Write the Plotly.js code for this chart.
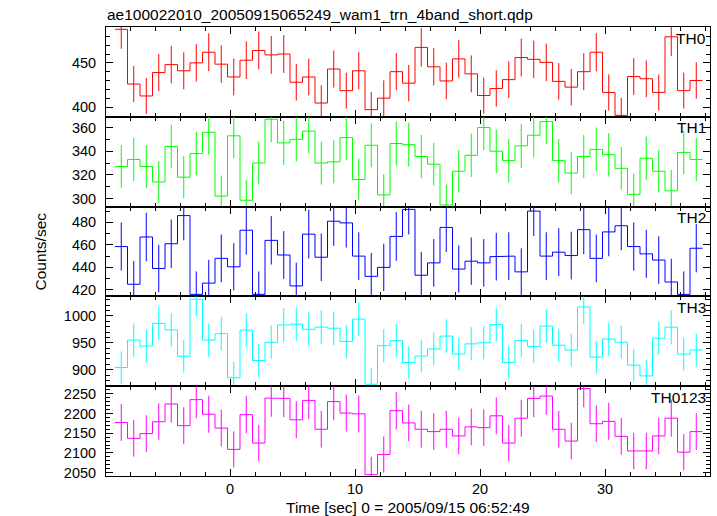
<!DOCTYPE html>
<html>
<head>
<meta charset="utf-8">
<script src="https://cdn.plot.ly/plotly-3.0.1.min.js"></script>
<style>html,body{margin:0;padding:0;background:#fff;}#chart{width:717px;height:516px;}</style>
</head>
<body>
<div id="chart"></div>
<script>
// Bin centres (sec)
var time = [-8.7,-7.7,-6.7,-5.7,-4.7,-3.7,-2.7,-1.7,-0.7,0.3,1.3,2.3,3.3,4.3,5.3,6.3,7.3,8.3,9.3,10.3,11.3,12.3,13.3,14.3,15.3,16.3,17.3,18.3,19.3,20.3,21.3,22.3,23.3,24.3,25.3,26.3,27.3,28.3,29.3,30.3,31.3,32.3,33.3,34.3,35.3,36.3,37.3];
var binWidth = 1.0;

var bandNames = ["TH0","TH1","TH2","TH3","TH0123"];

var th0 = [488,426,412.5,439,448,441,450,462,448.5,434,453,464,459,460,428,434,404.5,443,418.5,441,397,410,440,427,467.5,445.5,429.5,454.5,437.5,413,421,431,456,454,450.5,429,422.5,440,462,416.5,390.5,434.5,432,416.5,479.5,418.5,430];
var th0Err = [22.1,20.6,20.3,21,21.2,21,21.2,21.5,21.2,20.8,21.3,21.5,21.4,21.4,20.7,20.8,20.1,21,20.4,21,19.9,20.2,21,20.7,21.6,21.1,20.7,21.3,20.9,20.3,20.5,20.8,21.4,21.3,21.2,20.7,20.6,21,21.5,20.4,19.8,20.8,20.8,20.4,21.9,20.4,20.7];

var th1 = [327,333,327,314,344,318,338,356,302,353,298.5,330,367,347,350,357,330,331,351.5,316,345,303,346.5,345.5,335.5,329,294.5,323,336.5,360,340,332,344.5,353.5,365,332,321.5,335.5,341.5,337,325.5,303.5,334,323,306.5,339,333];
var th1Err = [18.1,18.2,18.1,17.7,18.5,17.8,18.4,18.9,17.4,18.8,17.3,18.2,19.2,18.6,18.7,18.9,18.2,18.2,18.7,17.8,18.6,17.4,18.6,18.6,18.3,18.1,17.2,18,18.3,19,18.4,18.2,18.6,18.8,19.1,18.2,17.9,18.3,18.5,18.4,18,17.4,18.3,18,17.5,18.4,18.2];

var th2 = [458.5,425,467,439,461,486,416,426,448,440.5,473,416,464,451,423.5,469.5,449,481,479.5,450,432,440,467.5,491.5,433,444,475.5,438.5,445.5,444,449.5,450,436,490,450,453.5,450.5,473.5,448,471.5,477,458.5,452,446.5,427,416,457];
var th2Err = [21.4,20.6,21.6,21,21.5,22,20.4,20.6,21.2,21,21.7,20.4,21.5,21.2,20.6,21.7,21.2,21.9,21.9,21.2,20.8,21,21.6,22.2,20.8,21.1,21.8,20.9,21.1,21.1,21.2,21.2,20.9,22.1,21.2,21.3,21.2,21.8,21.2,21.7,21.8,21.4,21.3,21.1,20.7,20.4,21.4];

var th3 = [904,955,944,986,974,925,1031,955,967,885,973.5,917,951,983,984.5,975,979,977,952.5,994,873,944.5,954,913.5,925.5,938.5,962.5,929,948,950,984,913.5,954,943,981,945.5,936.5,1016.5,923.5,957,951,908.5,888.5,958.5,979,929,936.5];
var th3Err = [30.1,30.9,30.7,31.4,31.2,30.4,32.1,30.9,31.1,29.7,31.2,30.3,30.8,31.4,31.4,31.2,31.3,31.3,30.9,31.5,29.5,30.7,30.9,30.2,30.4,30.6,31,30.5,30.8,30.8,31.4,30.2,30.9,30.7,31.3,30.7,30.6,31.9,30.4,30.9,30.8,30.1,29.8,31,31.3,30.5,30.6];

var th0123 = [2177,2137,2149,2179,2224,2169,2235,2198,2163,2109,2197,2125,2239,2238,2184,2233,2160,2230,2201,2199,2045,2096,2207,2176,2160,2154,2160,2143,2166,2164,2194,2125,2188,2238,2244,2160,2130,2263,2174,2180,2142,2105,2105,2143,2188,2102,2154];
var th0123Err = [46.7,46.2,46.4,46.7,47.2,46.6,47.3,46.9,46.5,45.9,46.9,46.1,47.3,47.3,46.7,47.3,46.5,47.2,46.9,46.9,45.2,45.8,47,46.6,46.5,46.4,46.5,46.3,46.5,46.5,46.8,46.1,46.8,47.3,47.4,46.5,46.2,47.6,46.6,46.7,46.3,45.9,45.9,46.3,46.8,45.8,46.4];

var yTickStep = [50,20,20,50,50];

(function () {
  var series = [th0, th1, th2, th3, th0123];
  var errors = [th0Err, th1Err, th2Err, th3Err, th0123Err];
  var colors = ["#ff0000","#00ff00","#0000ff","#00ffff","#ff00ff"];
  var yRanges = [[388.9,490.6],[293.1,369.1],[414.2,494],[869.4,1036.1],[2041.6,2269]];

  var FONT = "Liberation Sans, Arial, Helvetica, sans-serif";
  var traces = [];
  var layout = {
    width: 717, height: 516,
    margin: {l: 106, r: 7, t: 27, b: 40},
    paper_bgcolor: "#fff", plot_bgcolor: "#fff",
    showlegend: false,
    font: {family: FONT, size: 14.5, color: "#000"},
    title: {text: "ae100022010_20050915065249_wam1_trn_4band_short.qdp",
            font: {family: FONT, size: 15.5, color: "#000"},
            x: 107/717, xanchor: "left", xref: "container",
            y: 1 - 15/516, yanchor: "middle", yref: "container"},
    annotations: []
  };

  var n = 5;
  for (var p = 0; p < n; p++) {
    var sfx = p === 0 ? "" : String(p + 1);
    var xs = [], ys = [];
    for (var i = 0; i < time.length; i++) {
      xs.push(time[i] - binWidth / 2, time[i] + binWidth / 2);
      ys.push(series[p][i], series[p][i]);
    }
    traces.push({
      type: "scatter", mode: "lines", x: xs, y: ys,
      xaxis: "x" + sfx, yaxis: "y" + sfx,
      line: {color: colors[p], width: 1}, hoverinfo: "skip"
    });
    traces.push({
      type: "scatter", mode: "markers", x: time, y: series[p],
      xaxis: "x" + sfx, yaxis: "y" + sfx,
      marker: {size: 1, opacity: 0, color: colors[p]},
      error_y: {type: "data", array: errors[p], symmetric: true, color: colors[p], thickness: 1, width: 0},
      hoverinfo: "skip"
    });
    var dTop = 1 - p / n, dBot = 1 - (p + 1) / n;
    layout["xaxis" + sfx] = {
      domain: [0, 1], anchor: "y" + sfx, range: [-9.92, 38.4],
      showline: true, linecolor: "#000", linewidth: 1, mirror: "allticks",
      ticks: "inside", ticklen: 7, tickwidth: 1, tickcolor: "#000",
      tick0: 0, dtick: 10,
      minor: {dtick: 2, ticks: "inside", ticklen: 4, tickcolor: "#000", tickwidth: 1, showgrid: false},
      showgrid: false, zeroline: false,
      showticklabels: p === n - 1,
      tickfont: {family: FONT, size: 14.5, color: "#000"}
    };
    layout["yaxis" + sfx] = {
      domain: [dBot, dTop], anchor: "x" + sfx, range: yRanges[p],
      showline: true, linecolor: "#000", linewidth: 1, mirror: "allticks",
      ticks: "inside", ticklen: 7, tickwidth: 1, tickcolor: "#000",
      tick0: 0, dtick: yTickStep[p],
      minor: {dtick: 10, ticks: "inside", ticklen: 4, tickcolor: "#000", tickwidth: 1, showgrid: false},
      showgrid: false, zeroline: false,
      tickfont: {family: FONT, size: 14.5, color: "#000"},
      ticklabelstandoff: 6
    };
    layout.annotations.push({
      text: bandNames[p], xref: "paper", x: 1, xanchor: "right", xshift: -2,
      yref: "y" + sfx + " domain", y: 1, yanchor: "middle", yshift: -11,
      showarrow: false, font: {family: FONT, size: 15.5, color: "#000"}
    });
  }

  layout.annotations.push({
    text: "Counts/sec", textangle: -90, xref: "paper", x: (40 - 106) / 604, xanchor: "center",
    yref: "paper", y: 0.5, yanchor: "middle", showarrow: false,
    font: {family: FONT, size: 15.5, color: "#000"}
  });
  layout.annotations.push({
    text: "Time [sec] 0 = 2005/09/15 06:52:49", xref: "paper", x: 0.5, xanchor: "center",
    yref: "paper", y: -(507 - 476) / 449, yanchor: "middle", showarrow: false,
    font: {family: FONT, size: 15.5, color: "#000"}
  });

  Plotly.newPlot("chart", traces, layout, {staticPlot: true, displayModeBar: false});
})();
</script>
</body>
</html>
